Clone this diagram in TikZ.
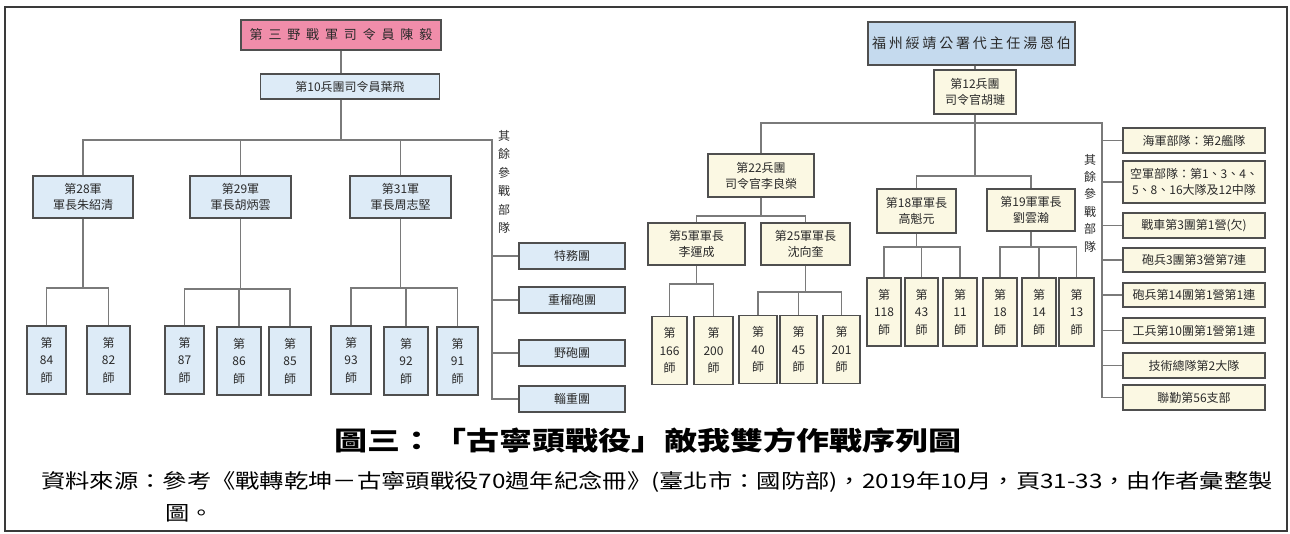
\documentclass[tikz,border=0pt]{standalone}
\usepackage{fontspec}
\usepackage{graphicx}
\newfontfamily\cjk{Noto Sans CJK TC}
\newcommand\boxfont{\cjk\fontsize{12}{16}\selectfont}
\newcommand\divfont{\cjk\fontsize{12}{17.5}\selectfont}
\definecolor{boxline}{HTML}{4F4F4F}
\definecolor{linegray}{HTML}{7A7A7A}
\definecolor{plablue}{HTML}{DDEBF7}
\definecolor{plapink}{HTML}{F08DAA}
\definecolor{fzblue}{HTML}{C5DAEE}
\definecolor{roccream}{HTML}{FBF8E3}
\definecolor{txt}{HTML}{2A2A2A}
\definecolor{framegray}{HTML}{3A3A3A}
\begin{document}
\begin{tikzpicture}[x=1pt, y=-1pt]
\tikzstyle{every node}=[inner sep=0pt, align=center, text=txt, font=\boxfont];
\tikzstyle{pla}=[draw=boxline, line width=1.4pt, fill=plablue];
\tikzstyle{roc}=[draw=boxline, line width=1.4pt, fill=roccream];
\tikzstyle{div}=[font=\divfont, minimum height=68];
\tikzstyle{link}=[draw=linegray, line width=1.3pt];
\useasboundingbox (0,0) rectangle (1290,534);
\draw[framegray, line width=2pt] (5,7) rectangle (1287,531);
% left side
\node[pla, fill=plapink, minimum width=200, minimum height=30,
  font=\cjk\fontsize{13}{16}\selectfont\addfontfeature{LetterSpace=45}] (c3) at (341,35) {第三野戰軍司令員陳毅};
\node[pla, minimum width=179, minimum height=25] (g10) at (350,86.5) {第10兵團司令員葉飛};
\node[pla, minimum width=100, minimum height=42] (a28) at (83,197) {第28軍\\軍長朱紹清};
\node[pla, minimum width=101, minimum height=42] (a29) at (240.5,197) {第29軍\\軍長胡炳雲};
\node[pla, minimum width=101, minimum height=42] (a31) at (400.5,197) {第31軍\\軍長周志堅};
\node[font=\cjk\fontsize{12}{18.4}\selectfont] (oth1) at (504,182) {其\\餘\\參\\戰\\部\\隊};
\node[pla, div, minimum width=39] (d84) at (46.5,360) {第\\84\\師};
\node[pla, div, minimum width=43] (d82) at (108.5,360) {第\\82\\師};
\node[pla, div, minimum width=39] (d87) at (184.5,360) {第\\87\\師};
\node[pla, div, minimum width=44] (d86) at (239,361) {第\\86\\師};
\node[pla, div, minimum width=42] (d85) at (290,361) {第\\85\\師};
\node[pla, div, minimum width=40] (d93) at (351,360) {第\\93\\師};
\node[pla, div, minimum width=44] (d92) at (406,361) {第\\92\\師};
\node[pla, div, minimum width=41] (d91) at (457.5,361) {第\\91\\師};
\node[pla, minimum width=106, minimum height=26] (s1) at (572,256) {特務團};
\node[pla, minimum width=106, minimum height=26] (s2) at (572,300) {重榴砲團};
\node[pla, minimum width=106, minimum height=26] (s3) at (572,353) {野砲團};
\node[pla, minimum width=106, minimum height=26] (s4) at (572,399) {輜重團};
\draw[link] (c3.south) -- (c3.south |- g10.north)
  (c3.south |- g10.south) -- (c3.south |- 0,140);
\draw[link] (a28.north) |- (492,140) |- (s4.west)
  (a29.north) -- (a29.north |- 0,140)
  (a31.north) -- (a31.north |- 0,140);
\foreach \s in {s1,s2,s3}
  \draw[link] (\s.west) -- (\s.west -| 492,0);
\draw[link] (a28.south) -- (a28.south |- 0,288)
  (d84.north) |- (a28.south |- 0,288) -| (d82.north);
\draw[link] (a29.south) -- (a29.south |- 0,289)
  (d87.north) |- (a29.south |- 0,289) -| (d85.north)
  (d86.north) -- (d86.north |- 0,289);
\draw[link] (a31.south) -- (a31.south |- 0,288)
  (d93.north) |- (a31.south |- 0,288) -| (d91.north)
  (d92.north) -- (d92.north |- 0,288);
% right side
\node[pla, fill=fzblue, minimum width=207, minimum height=43,
  font=\cjk\fontsize{14}{16}\selectfont\addfontfeature{LetterSpace=20}] (fz) at (971.5,43.5) {福州綏靖公署代主任湯恩伯};
\node[roc, minimum width=82, minimum height=44] (g12) at (975,92) {第12兵團\\司令官胡璉};
\node[roc, minimum width=106, minimum height=43] (g22) at (761,175.5) {第22兵團\\司令官李良榮};
\node[roc, minimum width=97, minimum height=42] (a5) at (696.5,244) {第5軍軍長\\李運成};
\node[roc, minimum width=89, minimum height=42] (a25) at (805.5,244) {第25軍軍長\\沈向奎};
\node[roc, minimum width=79, minimum height=44] (a18) at (916.5,211) {第18軍軍長\\高魁元};
\node[roc, minimum width=88, minimum height=42] (a19) at (1031,210) {第19軍軍長\\劉雲瀚};
\node[font=\cjk\fontsize{12}{17.4}\selectfont] (oth2) at (1090,203) {其\\餘\\參\\戰\\部\\隊};
\node[roc, div, minimum width=35] (d166) at (669.5,350.5) {第\\166\\師};
\node[roc, div, minimum width=39] (d200) at (713.5,350.5) {第\\200\\師};
\node[roc, div, minimum width=38] (d40) at (758,349.5) {第\\40\\師};
\node[roc, div, minimum width=37] (d45) at (798.5,349.5) {第\\45\\師};
\node[roc, div, minimum width=37] (d201) at (841.5,349.5) {第\\201\\師};
\node[roc, div, minimum width=34] (d118) at (884,312) {第\\118\\師};
\node[roc, div, minimum width=33] (d43) at (921.5,312) {第\\43\\師};
\node[roc, div, minimum width=34] (d11) at (960,312) {第\\11\\師};
\node[roc, div, minimum width=34] (d18) at (1000,312) {第\\18\\師};
\node[roc, div, minimum width=34] (d14) at (1039,312) {第\\14\\師};
\node[roc, div, minimum width=35] (d13) at (1076.5,312) {第\\13\\師};
\node[roc, minimum width=142, minimum height=25] (r1) at (1194,140.5) {海軍部隊：第2艦隊};
\node[roc, minimum width=142, minimum height=42] (r2) at (1194,182) {空軍部隊：第1、3、4、\\5、8、16大隊及12中隊};
\node[roc, minimum width=142, minimum height=25] (r3) at (1194,225.5) {戰車第3團第1營(欠)};
\node[roc, minimum width=142, minimum height=24] (r4) at (1194,260) {砲兵3團第3營第7連};
\node[roc, minimum width=142, minimum height=24] (r5) at (1194,295) {砲兵第14團第1營第1連};
\node[roc, minimum width=142, minimum height=25] (r6) at (1194,330.5) {工兵第10團第1營第1連};
\node[roc, minimum width=142, minimum height=25] (r7) at (1194,365.5) {技術總隊第2大隊};
\node[roc, minimum width=142, minimum height=25] (r8) at (1194,397.5) {聯勤第56支部};
\draw[link] (g12.north |- fz.south) -- (g12.north)
  (g12.south) -- (g12.south |- 0,176)
  (a18.north) |- (g12.south |- 0,176) -| (a19.north);
\draw[link] (g22.north) |- (1102,123) |- (r8.west);
\foreach \r in {r1,r2,r3,r4,r5,r6,r7}
  \draw[link] (\r.west) -- (\r.west -| 1102,0);
\draw[link] (g22.south) -- (g22.south |- 0,216)
  (a5.north) |- (g22.south |- 0,216) -| (a25.north);
\draw[link] (a5.south) -- (a5.south |- 0,284)
  (d166.north) |- (a5.south |- 0,284) -| (d200.north);
\draw[link] (a25.south) -- (a25.south |- 0,292)
  (d40.north) |- (a25.south |- 0,292) -| (d201.north)
  (d45.north) -- (d45.north |- 0,292);
\draw[link] (a18.south) -- (a18.south |- 0,247)
  (d118.north) |- (a18.south |- 0,247) -| (d11.north)
  (d43.north) -- (d43.north |- 0,247);
\draw[link] (a19.south) -- (a19.south |- 0,247)
  (d18.north) |- (a19.south |- 0,247) -| (d13.north)
  (d14.north) -- (d14.north |- 0,247);
% caption
\node[font=\cjk\fontsize{26}{30}\selectfont\bfseries, text=black] (title) at (648,441)
  {\scalebox{1.27}[1]{圖三：「古寧頭戰役」敵我雙方作戰序列圖}};
\node[anchor=west, font=\cjk\fontsize{20}{24}\selectfont, text=black] (src) at (41,482)
  {\scalebox{1.215}[1]{資料來源：參考《戰轉乾坤－古寧頭戰役70週年紀念冊》(臺北市：國防部)，2019年10月，頁31-33，由作者彙整製}};
\node[anchor=west, font=\cjk\fontsize{20}{24}\selectfont, text=black] (src2) at (165,513)
  {\scalebox{1.215}[1]{圖。}};
\end{tikzpicture}
\end{document}
